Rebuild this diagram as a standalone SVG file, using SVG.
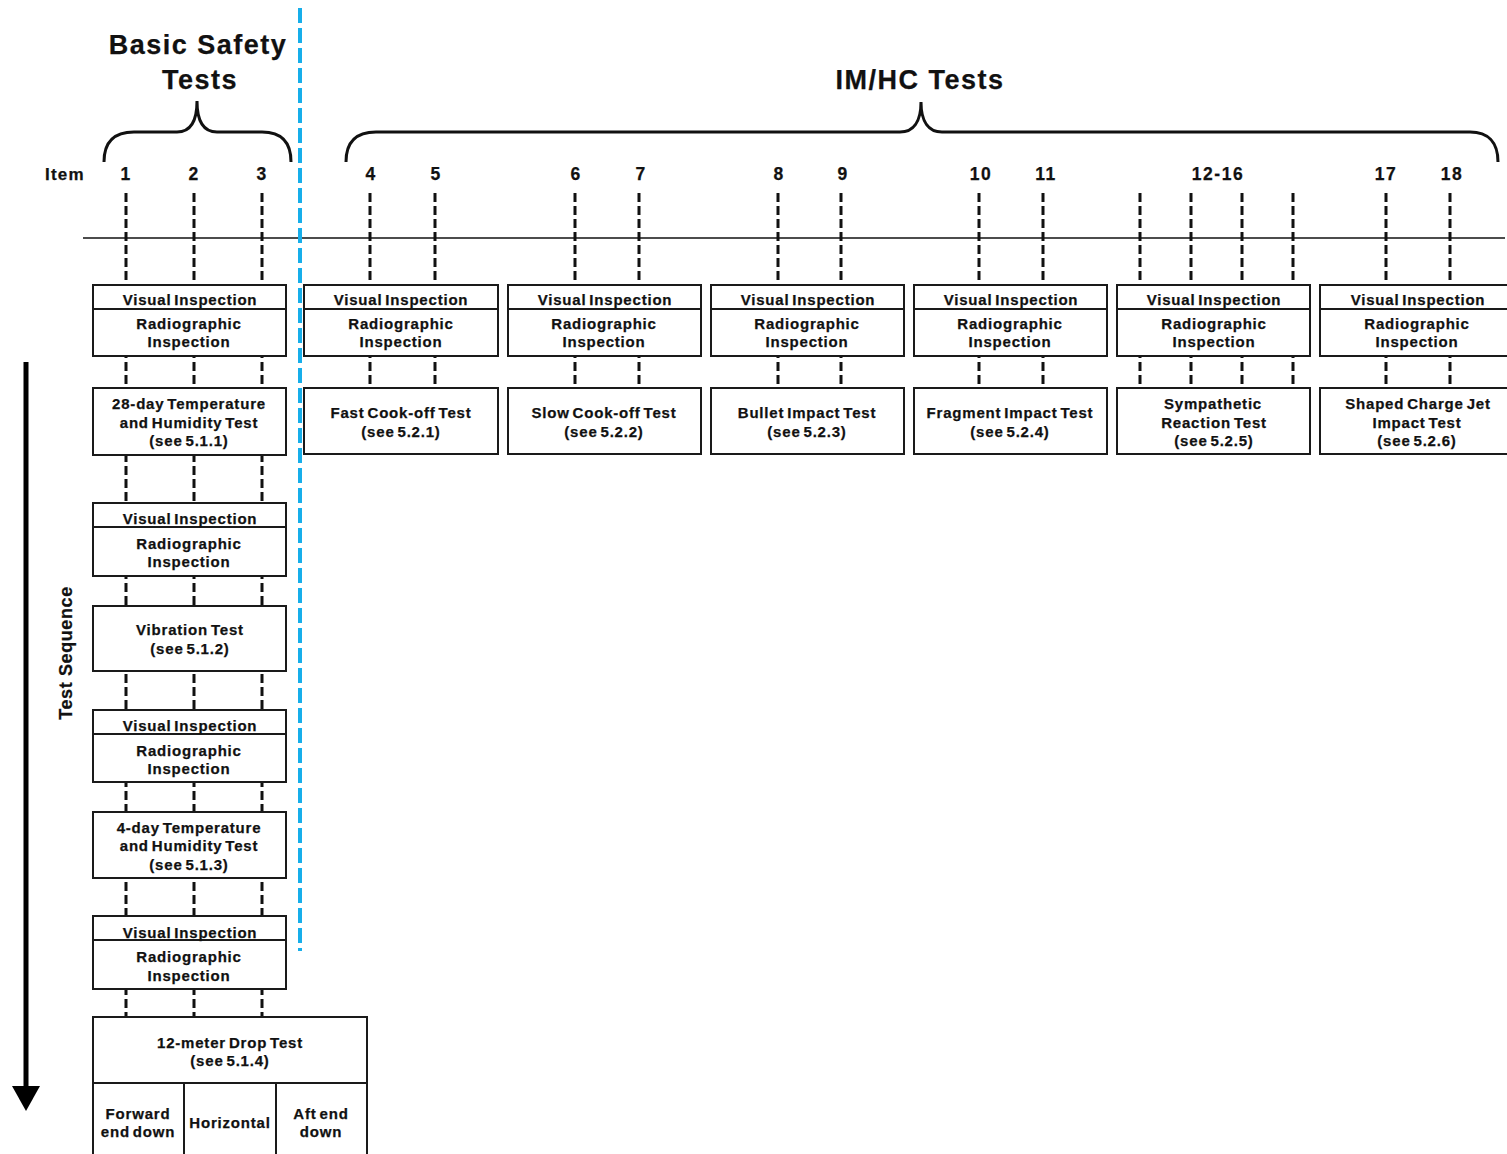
<svg xmlns="http://www.w3.org/2000/svg" width="1507" height="1154" viewBox="0 0 1507 1154">
<style>
text{font-family:"Liberation Sans",Arial,sans-serif;font-weight:bold;fill:#111;stroke:#111;stroke-width:0.25px;}
.t{font-size:15px;letter-spacing:0.8px;word-spacing:-2px;text-anchor:middle;}
.num{font-size:17.5px;letter-spacing:1.5px;text-anchor:middle;}
.title{font-size:27px;letter-spacing:1.5px;text-anchor:middle;}
.box{fill:#fff;stroke:#1a1a1a;stroke-width:2;}
.div{stroke:#1a1a1a;stroke-width:2;}
.dash{stroke:#111;stroke-width:3;stroke-dasharray:9 4;fill:none;}
.brace{fill:none;stroke:#111;stroke-width:3;}
</style>

<g id="headers">
<text class="title" x="198" y="54">Basic Safety</text>
<text class="title" x="200" y="89">Tests</text>
<text class="title" x="920" y="89">IM/HC Tests</text>
<path class="brace" d="M104,162 C104,142 114,132 134,132 L177,132 C190,132 197,122 197,101 C197,122 204,132 217,132 L262,132 C281,132 291,142 291,162"/>
<path class="brace" d="M346,162 C346,142 356,132 376,132 L900,132 C913,132 921,122 921,102 C921,122 929,132 942,132 L1470,132 C1488,132 1498,142 1498,162"/>
<text x="45" y="180" style="font-size:17px;letter-spacing:1.2px">Item</text>
<text class="num" x="126" y="180">1</text>
<text class="num" x="194" y="180">2</text>
<text class="num" x="262" y="180">3</text>
<text class="num" x="371" y="180">4</text>
<text class="num" x="436" y="180">5</text>
<text class="num" x="576" y="180">6</text>
<text class="num" x="641" y="180">7</text>
<text class="num" x="779" y="180">8</text>
<text class="num" x="843" y="180">9</text>
<text class="num" x="981" y="180">10</text>
<text class="num" x="1046" y="180">11</text>
<text class="num" x="1218" y="180">12-16</text>
<text class="num" x="1386" y="180">17</text>
<text class="num" x="1452" y="180">18</text>
</g>

<g id="connectors">
<line x1="83" y1="238" x2="1505" y2="238" stroke="#111" stroke-width="1.5"/>
<line class="dash" x1="126" y1="193" x2="126" y2="1017"/>
<line class="dash" x1="194" y1="193" x2="194" y2="1017"/>
<line class="dash" x1="262" y1="193" x2="262" y2="1017"/>
<line class="dash" x1="370" y1="193" x2="370" y2="388"/>
<line class="dash" x1="435" y1="193" x2="435" y2="388"/>
<line class="dash" x1="575" y1="193" x2="575" y2="388"/>
<line class="dash" x1="639" y1="193" x2="639" y2="388"/>
<line class="dash" x1="778" y1="193" x2="778" y2="388"/>
<line class="dash" x1="841" y1="193" x2="841" y2="388"/>
<line class="dash" x1="979" y1="193" x2="979" y2="388"/>
<line class="dash" x1="1043" y1="193" x2="1043" y2="388"/>
<line class="dash" x1="1140" y1="193" x2="1140" y2="388"/>
<line class="dash" x1="1191" y1="193" x2="1191" y2="388"/>
<line class="dash" x1="1242" y1="193" x2="1242" y2="388"/>
<line class="dash" x1="1293" y1="193" x2="1293" y2="388"/>
<line class="dash" x1="1386" y1="193" x2="1386" y2="388"/>
<line class="dash" x1="1450" y1="193" x2="1450" y2="388"/>
<line x1="300" y1="8" x2="300" y2="951" stroke="#17AEEA" stroke-width="4" stroke-dasharray="15 5"/>
<line x1="26" y1="362" x2="26" y2="1090" stroke="#000" stroke-width="5"/>
<polygon points="12,1086 40,1086 26,1111" fill="#000"/>
<text transform="translate(72,653) rotate(-90)" style="font-size:18px;letter-spacing:0.6px;text-anchor:middle">Test Sequence</text>
</g>

<!-- left column -->
<g id="vi1">
<rect class="box" x="93" y="285" width="193" height="71"/>
<line class="div" x1="93" y1="309" x2="286" y2="309"/>
<text class="t" x="190" y="305">Visual Inspection</text>
<text class="t" x="189" y="329">Radiographic</text>
<text class="t" x="189" y="347">Inspection</text>
</g>
<g id="temp28">
<rect class="box" x="93" y="388" width="193" height="67"/>
<text class="t" x="189" y="409">28-day Temperature</text>
<text class="t" x="189" y="428">and Humidity Test</text>
<text class="t" x="189" y="446">(see 5.1.1)</text>
</g>
<g id="vi2">
<rect class="box" x="93" y="503" width="193" height="73"/>
<line class="div" x1="93" y1="527" x2="286" y2="527"/>
<text class="t" x="190" y="524">Visual Inspection</text>
<text class="t" x="189" y="549">Radiographic</text>
<text class="t" x="189" y="567">Inspection</text>
</g>
<g id="vibration">
<rect class="box" x="93" y="606" width="193" height="65"/>
<text class="t" x="190" y="635">Vibration Test</text>
<text class="t" x="190" y="654">(see 5.1.2)</text>
</g>
<g id="vi3">
<rect class="box" x="93" y="710" width="193" height="72"/>
<line class="div" x1="93" y1="734" x2="286" y2="734"/>
<text class="t" x="190" y="731">Visual Inspection</text>
<text class="t" x="189" y="756">Radiographic</text>
<text class="t" x="189" y="774">Inspection</text>
</g>
<g id="temp4">
<rect class="box" x="93" y="812" width="193" height="66"/>
<text class="t" x="189" y="833">4-day Temperature</text>
<text class="t" x="189" y="851">and Humidity Test</text>
<text class="t" x="189" y="870">(see 5.1.3)</text>
</g>
<g id="vi4">
<rect class="box" x="93" y="916" width="193" height="73"/>
<line class="div" x1="93" y1="940" x2="286" y2="940"/>
<text class="t" x="190" y="938">Visual Inspection</text>
<text class="t" x="189" y="962">Radiographic</text>
<text class="t" x="189" y="981">Inspection</text>
</g>
<g id="drop">
<rect class="box" x="93" y="1017" width="274" height="66"/>
<text class="t" x="230" y="1048">12-meter Drop Test</text>
<text class="t" x="230" y="1066">(see 5.1.4)</text>
<rect class="box" x="93" y="1083" width="91" height="80"/>
<rect class="box" x="184" y="1083" width="92" height="80"/>
<rect class="box" x="276" y="1083" width="91" height="80"/>
<text class="t" x="138" y="1119">Forward</text>
<text class="t" x="138" y="1137">end down</text>
<text class="t" x="230" y="1128">Horizontal</text>
<text class="t" x="321" y="1119">Aft end</text>
<text class="t" x="321" y="1137">down</text>
</g>

<!-- IM/HC columns -->
<g id="vi-fco">
<rect class="box" x="304" y="285" width="194" height="71"/>
<line class="div" x1="304" y1="309" x2="498" y2="309"/>
<text class="t" x="401" y="305">Visual Inspection</text>
<text class="t" x="401" y="329">Radiographic</text>
<text class="t" x="401" y="347">Inspection</text>
</g>
<g id="fco">
<rect class="box" x="304" y="388" width="194" height="66"/>
<text class="t" x="401" y="418">Fast Cook-off Test</text>
<text class="t" x="401" y="437">(see 5.2.1)</text>
</g>
<g id="vi-sco">
<rect class="box" x="508" y="285" width="193" height="71"/>
<line class="div" x1="508" y1="309" x2="701" y2="309"/>
<text class="t" x="605" y="305">Visual Inspection</text>
<text class="t" x="604" y="329">Radiographic</text>
<text class="t" x="604" y="347">Inspection</text>
</g>
<g id="sco">
<rect class="box" x="508" y="388" width="193" height="66"/>
<text class="t" x="604" y="418">Slow Cook-off Test</text>
<text class="t" x="604" y="437">(see 5.2.2)</text>
</g>
<g id="vi-bi">
<rect class="box" x="711" y="285" width="193" height="71"/>
<line class="div" x1="711" y1="309" x2="904" y2="309"/>
<text class="t" x="808" y="305">Visual Inspection</text>
<text class="t" x="807" y="329">Radiographic</text>
<text class="t" x="807" y="347">Inspection</text>
</g>
<g id="bi">
<rect class="box" x="711" y="388" width="193" height="66"/>
<text class="t" x="807" y="418">Bullet Impact Test</text>
<text class="t" x="807" y="437">(see 5.2.3)</text>
</g>
<g id="vi-fi">
<rect class="box" x="914" y="285" width="193" height="71"/>
<line class="div" x1="914" y1="309" x2="1107" y2="309"/>
<text class="t" x="1011" y="305">Visual Inspection</text>
<text class="t" x="1010" y="329">Radiographic</text>
<text class="t" x="1010" y="347">Inspection</text>
</g>
<g id="fi">
<rect class="box" x="914" y="388" width="193" height="66"/>
<text class="t" x="1010" y="418">Fragment Impact Test</text>
<text class="t" x="1010" y="437">(see 5.2.4)</text>
</g>
<g id="vi-sr">
<rect class="box" x="1117" y="285" width="193" height="71"/>
<line class="div" x1="1117" y1="309" x2="1310" y2="309"/>
<text class="t" x="1214" y="305">Visual Inspection</text>
<text class="t" x="1214" y="329">Radiographic</text>
<text class="t" x="1214" y="347">Inspection</text>
</g>
<g id="sr">
<rect class="box" x="1117" y="388" width="193" height="66"/>
<text class="t" x="1213" y="409">Sympathetic</text>
<text class="t" x="1214" y="428">Reaction Test</text>
<text class="t" x="1214" y="446">(see 5.2.5)</text>
</g>
<g id="vi-scj">
<rect class="box" x="1320" y="285" width="200" height="71"/>
<line class="div" x1="1320" y1="309" x2="1507" y2="309"/>
<text class="t" x="1418" y="305">Visual Inspection</text>
<text class="t" x="1417" y="329">Radiographic</text>
<text class="t" x="1417" y="347">Inspection</text>
</g>
<g id="scj">
<rect class="box" x="1320" y="388" width="200" height="66"/>
<text class="t" x="1418" y="409">Shaped Charge Jet</text>
<text class="t" x="1417" y="428">Impact Test</text>
<text class="t" x="1417" y="446">(see 5.2.6)</text>
</g>
</svg>
